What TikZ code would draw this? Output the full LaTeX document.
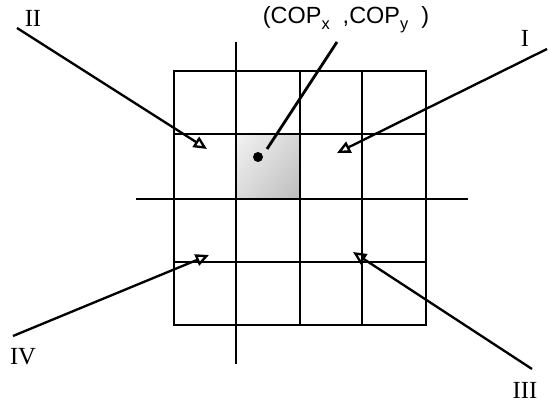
\documentclass[tikz,border=0pt]{standalone}
\usepackage{fontspec}
\setmainfont{Liberation Serif}
\newfontfamily\copfont{Liberation Sans}
\usetikzlibrary{arrows.meta,shadings}
\newcommand{\coplow}[1]{\raisebox{-0.5ex}{\fontsize{14}{14}\selectfont #1}}
\begin{document}
\begin{tikzpicture}[x=0.03cm,y=0.03cm,line width=2.4pt,
    ray/.style={line width=2pt,-{Triangle[open,length=0.4cm,width=0.36cm,line width=2pt]}},
    numlab/.style={font=\fontsize{21}{21}\selectfont,inner sep=0pt,anchor=base}]
  \useasboundingbox (0,0) rectangle (549,404);
  % shaded cell
  \shade[upper left=black!5,lower right=black!26,upper right=black!16,lower left=black!14]
    (236,205) rectangle (300,270);
  % grid
  \draw (174,79) rectangle (426,333);
  \foreach \gx in {300,362}
    \draw (\gx,79) -- (\gx,333);
  \foreach \gy in {142,270}
    \draw (174,\gy) -- (426,\gy);
  % axes
  \draw (236,40) -- (236,362);
  \draw (136,205) -- (468,205);
  % centre of pressure
  \fill (258,247) circle (5);
  \coordinate (cop) at (267,255);
  \coordinate (copend) at (337,362);
  \draw (copend) -- (cop);
  \node[font=\copfont\fontsize{20}{20}\selectfont] (coplab) at (346,384)
    {(COP\coplow{x}\ \ ,COP\coplow{y}\ \ )};
  % rays
  \coordinate (s1) at (547,355);  \coordinate (e1) at (337,251);
  \coordinate (s2) at (17,376);   \coordinate (e2) at (207,255);
  \coordinate (s3) at (532,35);   \coordinate (e3) at (353,152);
  \coordinate (s4) at (13,68);    \coordinate (e4) at (209,149);
  \draw[ray] (s1) -- (e1);
  \draw[ray] (s2) -- (e2);
  \draw[ray] (s3) -- (e3);
  \draw[ray] (s4) -- (e4);
  \node[numlab] (l1) at (525,357) {I};
  \node[numlab] (l2) at (33,377) {II};
  \node[numlab] (l3) at (525,5) {III};
  \node[numlab] (l4) at (23,39) {IV};
\end{tikzpicture}
\end{document}
